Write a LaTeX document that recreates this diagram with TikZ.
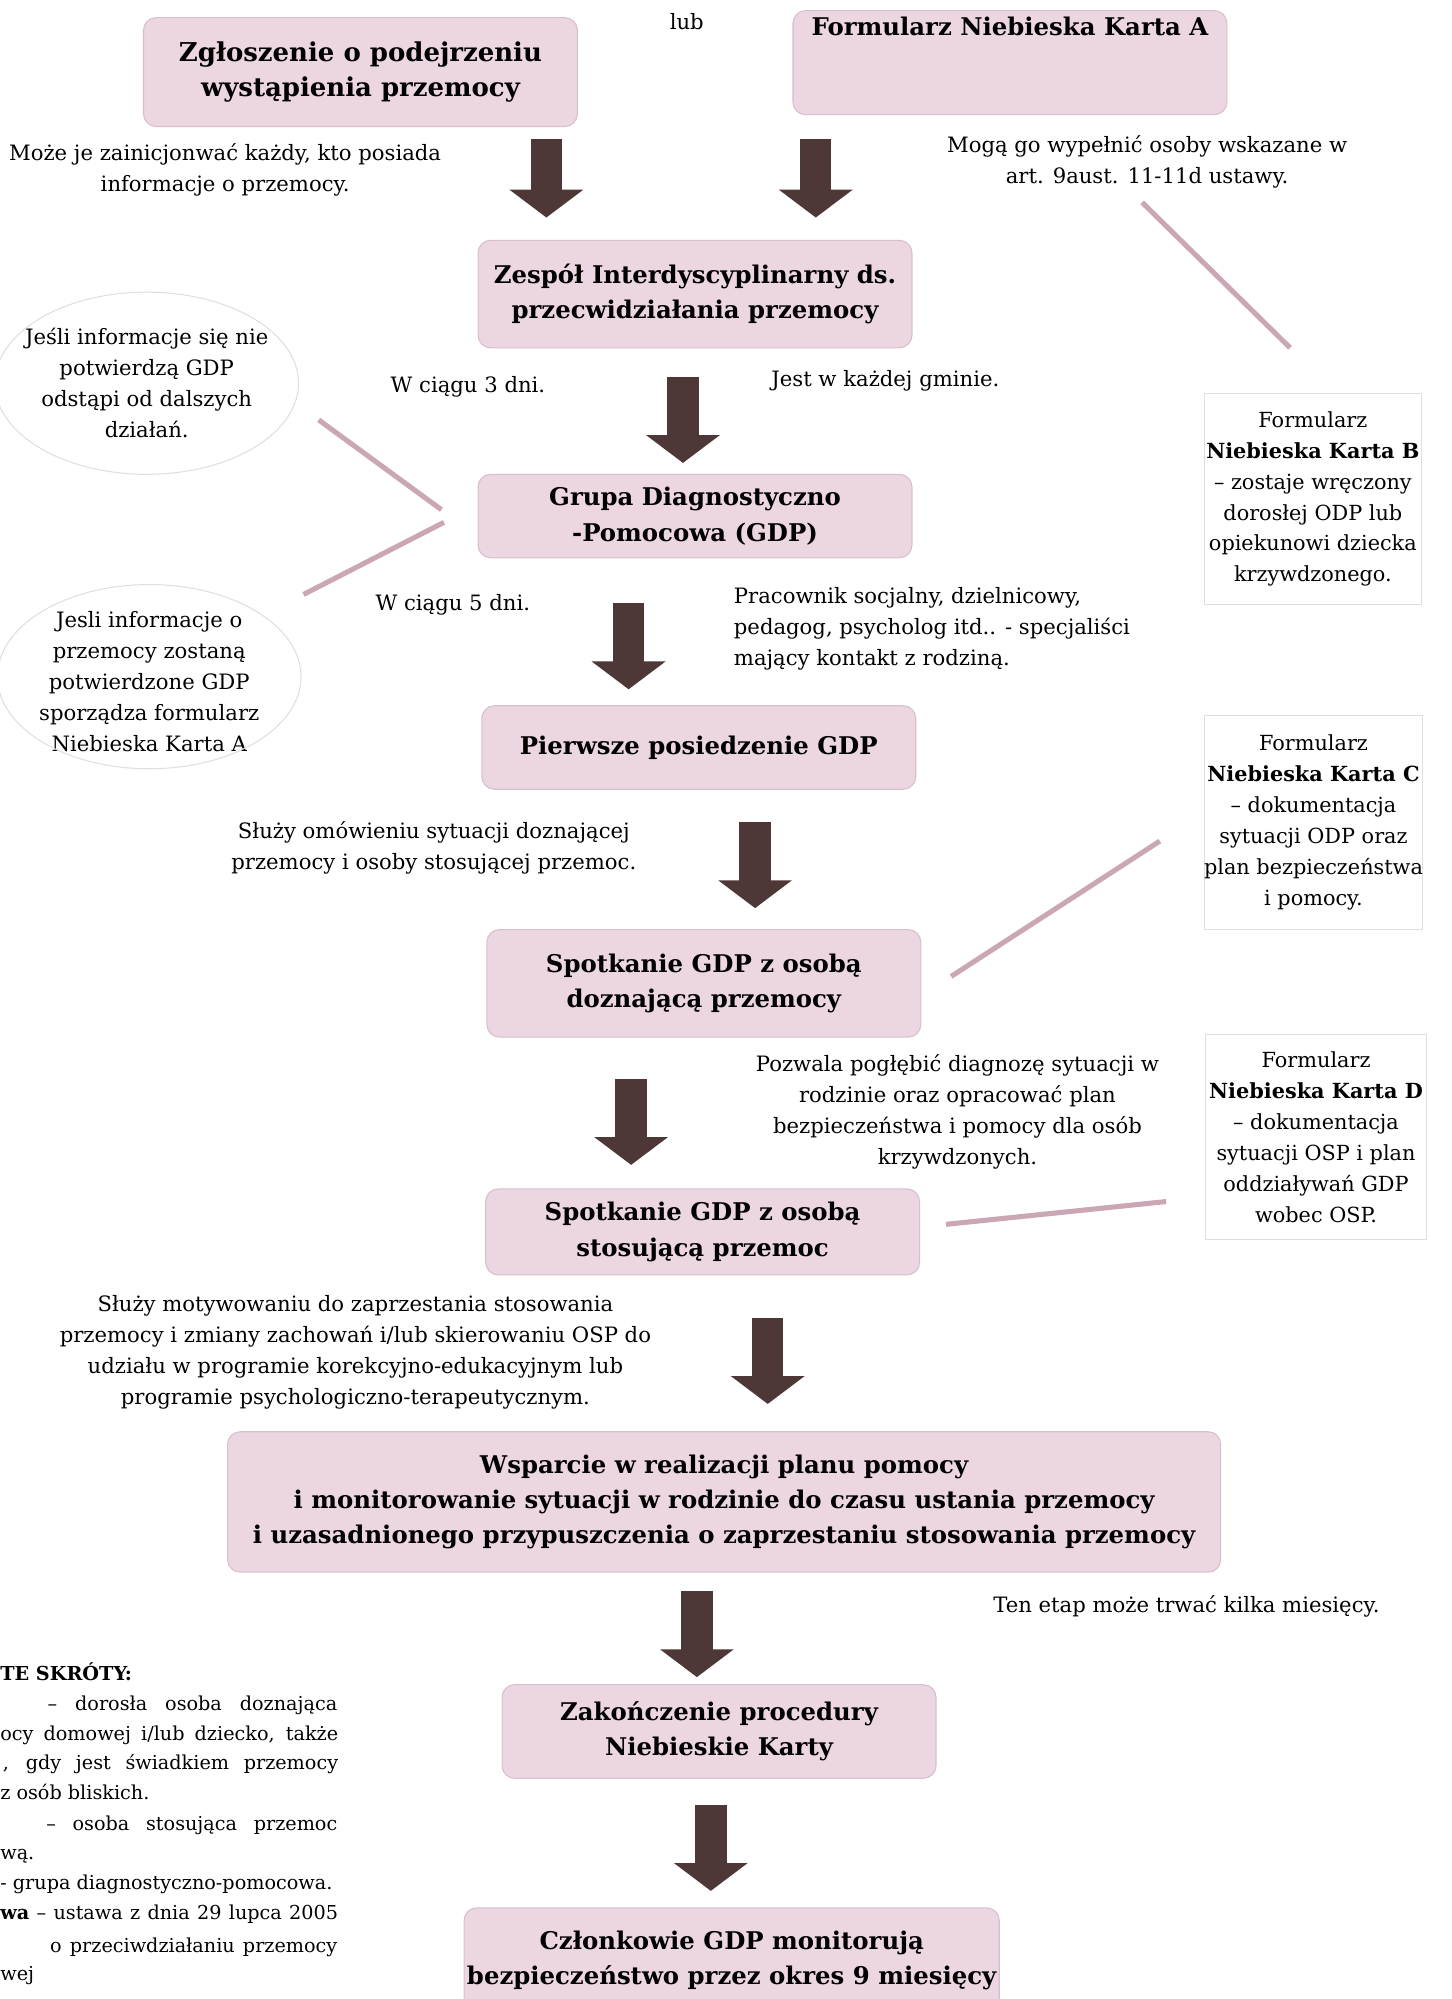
\documentclass[tikz,border=0pt]{standalone}
\usepackage{fontspec}
\setmainfont{DejaVu Serif}
\usetikzlibrary{positioning,arrows.meta,shapes.geometric}
\definecolor{boxpink}{HTML}{EBD6E1}
\definecolor{boxedge}{HTML}{D9BFCB}
\definecolor{arrowbrown}{HTML}{4E3737}
\definecolor{linkpink}{HTML}{CBA7B6}
\definecolor{faintgray}{HTML}{E4DDE0}

\begin{document}
\begin{tikzpicture}[
    x=0.025cm, y=-0.025cm,
    stage/.style={rectangle, rounded corners=0.25cm, draw=boxedge, fill=boxpink, line width=0.6pt, align=center, inner sep=0pt, minimum width=8.575cm, font=\bfseries\fontsize{13.7}{19.8}\selectfont},
    remark/.style={align=center, inner sep=0pt, font=\fontsize{11.9}{17.4}\selectfont},
    form/.style={rectangle, draw=faintgray, line width=0.6pt, align=center, inner sep=0pt, minimum width=4.3cm, font=\fontsize{11.7}{17.4}\selectfont},
    bubble/.style={draw=faintgray, line width=0.6pt},
    bigarrow/.style={draw=arrowbrown, line width=0.62cm, -{Triangle[width=1.43cm, length=0.55cm]}},
    link/.style={draw=linkpink, line width=0.1cm},
    legend/.style={inner sep=0pt, anchor=base west, font=\fontsize{10.8}{14}\selectfont}
]
\clip (0,0) rectangle (1148,1580.5);
\fill[white] (0,0) rectangle (1148,1580.5);

% Stages of the procedure
\node[stage, minimum height=2.15cm, font=\bfseries\fontsize{14.6}{19.8}\selectfont] (zgl) at (285,57) {Zgłoszenie o podejrzeniu\\wystąpienia przemocy};
\node[stage, anchor=north, inner ysep=0.12cm, text depth=1.45cm] (kartaA) at (798.5,8) {Formularz Niebieska Karta A};
\node[stage, minimum height=2.125cm] (zespol) at (549.5,232.5) {Zespół Interdyscyplinarny ds.\\przecwidziałania przemocy};
\node[stage, minimum height=1.65cm] (gdp) at (549.5,408) {Grupa Diagnostyczno\\-Pomocowa (GDP)};
\node[stage, minimum height=1.65cm] (posiedz) at (552.5,591) {Pierwsze posiedzenie GDP};
\node[stage, minimum height=2.125cm] (odp) at (556.5,777.5) {Spotkanie GDP z osobą\\doznającą przemocy};
\node[stage, minimum height=1.7cm] (osp) at (555.5,974) {Spotkanie GDP z osobą\\stosującą przemoc};
\node[stage, minimum width=19.625cm, minimum height=2.775cm] (wsparcie) at (572.5,1187.5) {Wsparcie w realizacji planu pomocy\\i monitorowanie sytuacji w rodzinie do czasu ustania przemocy\\i uzasadnionego przypuszczenia o zaprzestaniu stosowania przemocy};
\node[stage, minimum height=1.85cm] (koniec) at (568.5,1369) {Zakończenie procedury\\Niebieskie Karty};
\node[stage, minimum width=10.575cm, anchor=north, inner ysep=0.45cm, text depth=1cm] (monitor) at (578.5,1508) {Członkowie GDP monitorują\\bezpieczeństwo przez okres 9 miesięcy};

% Big arrows between the stages
\foreach \n/\x/\y/\l in {1/432/110/62, 2/645/110/62, 3/540/298/68, 4/497/477/68, 5/597/650/68, 6/499/853/68, 7/607/1042/68, 8/551/1258/68, 9/562/1427/68} {
    \coordinate (s\n) at (\x,\y);
    \coordinate (t\n) at (\x,\y+\l);
    \draw[bigarrow] (s\n) -- (t\n);
}

% Remarks
\node[remark] (lub) at (543,17) {lub};
\node[remark] (kazdy) at (178,134) {Może je zainicjonwać każdy, kto posiada\\informacje o przemocy.};
\node[remark] (ustawa) at (907,128) {Mogą go wypełnić osoby wskazane w\\art. 9aust. 11-11d ustawy.};
\node[remark] (dni3) at (370,306) {W ciągu 3 dni.};
\node[remark] (gmina) at (700,301) {Jest w każdej gminie.};
\node[remark] (dni5) at (358,478) {W ciągu 5 dni.};
\node[remark, anchor=west, align=left] (sklad) at (580,497) {Pracownik socjalny, dzielnicowy,\\pedagog, psycholog itd.. - specjaliści\\mający kontakt z rodziną.};
\node[remark] (omow) at (343,670) {Służy omówieniu sytuacji doznającej\\przemocy i osoby stosującej przemoc.};
\node[remark] (diagn) at (757,879) {Pozwala pogłębić diagnozę sytuacji w\\rodzinie oraz opracować plan\\bezpieczeństwa i pomocy dla osób\\krzywdzonych.};
\node[remark] (motyw) at (281,1069) {Służy motywowaniu do zaprzestania stosowania\\przemocy i zmiany zachowań i/lub skierowaniu OSP do\\udziału w programie korekcyjno-edukacyjnym lub\\programie psychologiczno-terapeutycznym.};
\node[remark] (etap) at (938,1270) {Ten etap może trwać kilka miesięcy.};

% Bubbles on the left
\node[remark] (nie) at (116,303) {Jeśli informacje się nie\\potwierdzą GDP\\odstąpi od dalszych\\działań.};
\draw[bubble] (nie.center) ellipse [x radius=3cm, y radius=1.8cm];
\node[remark] (tak) at (118,539) {Jesli informacje o\\przemocy zostaną\\potwierdzone GDP\\sporządza formularz\\Niebieska Karta A};
\draw[bubble] ([yshift=0.1cm]tak.center) ellipse [x radius=3cm, y radius=1.82cm];

% Forms B, C, D
\node[form, minimum height=4.175cm] (kartaB) at (1038,394.5) {Formularz\\\textbf{Niebieska Karta B}\\– zostaje wręczony\\dorosłej ODP lub\\opiekunowi dziecka\\krzywdzonego.};
\node[form, minimum height=4.225cm] (kartaC) at (1038.5,650.5) {Formularz\\\textbf{Niebieska Karta C}\\– dokumentacja\\sytuacji ODP oraz\\plan bezpieczeństwa\\i pomocy.};
\node[form, minimum width=4.375cm, minimum height=4.05cm] (kartaD) at (1040.5,899) {Formularz\\\textbf{Niebieska Karta D}\\– dokumentacja\\sytuacji OSP i plan\\oddziaływań GDP\\wobec OSP.};

% Pink links
\foreach \n/\a/\b/\c/\d in {1/903/160/1020/275, 2/252/332/349/403, 3/351/413/240/470, 4/917/665/752/772, 5/922/950/748/968} {
    \coordinate (p\n) at (\a,\b);
    \coordinate (q\n) at (\c,\d);
    \draw[link] (p\n) -- (q\n);
}

% Legend (cut at the left edge)
\node[legend, font=\bfseries\fontsize{10.8}{14}\selectfont] (lg1) at (0,1329) {TE SKRÓTY:};
\node[legend, anchor=base east] (lg2) at (267,1352) {\makebox[5.725cm][s]{– dorosła osoba doznająca}};
\node[legend] (lg3) at (0,1376) {\makebox[6.675cm][s]{ocy domowej i/lub dziecko, także}};
\node[legend] (lg4) at (2,1399) {\makebox[6.625cm][s]{, gdy jest świadkiem przemocy}};
\node[legend] (lg5) at (0,1423) {z osób bliskich.};
\node[legend, anchor=base east] (lg6) at (267,1447) {\makebox[5.75cm][s]{– osoba stosująca przemoc}};
\node[legend] (lg7) at (0,1470) {wą.};
\node[legend] (lg8) at (0,1494) {- grupa diagnostyczno-pomocowa.};
\node[legend] (lg9) at (0,1518) {\makebox[6.675cm][s]{\textbf{wa} – ustawa z dnia 29 lupca 2005}};
\node[legend, anchor=base east] (lg10) at (267,1544) {\makebox[5.675cm][s]{o przeciwdziałaniu przemocy}};
\node[legend] (lg11) at (0,1566) {wej};

\end{tikzpicture}
\end{document}
